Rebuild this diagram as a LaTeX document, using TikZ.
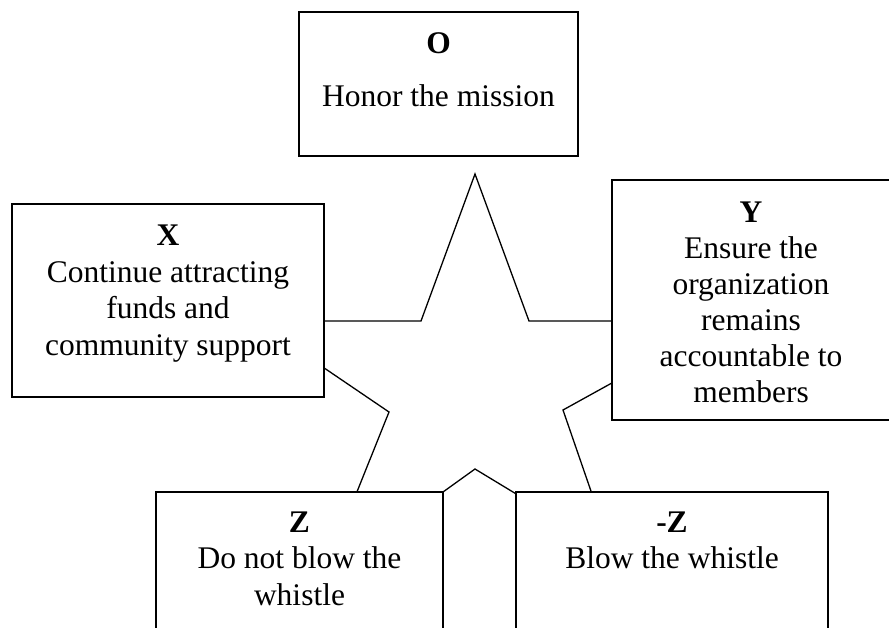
\documentclass[tikz,border=0pt]{standalone}
\usepackage{fontspec}
\setmainfont{Liberation Serif}
\begin{document}
\begin{tikzpicture}[x=1pt,y=-1pt,
  box/.style={draw=black,fill=white,line width=2pt,inner sep=0pt,rectangle},
  txt/.style={anchor=base,inner sep=0pt,font=\fontsize{31.5}{36}\selectfont},
  ttl/.style={txt,font=\fontsize{31.5}{36}\selectfont\bfseries},
  starline/.style={draw=black,line width=1.3pt,line join=miter}]
\useasboundingbox (0,0) rectangle (889,627);
\clip (0,0) rectangle (889,627);
% star
\coordinate (s1) at (475,174);
\coordinate (s2) at (529,321);
\coordinate (s3) at (724,321);
\coordinate (s4) at (563,410);
\coordinate (s5) at (612,552);
\coordinate (s6) at (475,469);
\coordinate (s7) at (322,579);
\coordinate (s8) at (389,412);
\coordinate (s9) at (255,321);
\coordinate (s10) at (421,321);
\draw[starline] (s1) -- (s2) -- (s3) -- (s4) -- (s5) -- (s6) -- (s7) -- (s8) -- (s9) -- (s10) -- cycle;
% boxes
\node[box,minimum width=279pt,minimum height=144pt] (boxO) at (438.5,84) {};
\node[box,minimum width=312pt,minimum height=193pt] (boxX) at (168,300.5) {};
\node[box,minimum width=280pt,minimum height=240pt] (boxY) at (752,300) {};
\node[box,minimum width=287pt,minimum height=148pt] (boxZ) at (299.5,566) {};
\node[box,minimum width=312pt,minimum height=148pt] (boxNZ) at (672,566) {};
% O
\node[ttl] (oT) at (438.5,53) {O};
\node[txt] (oL1) at (438.5,106) {Honor the mission};
% X
\node[ttl] (xT) at (168,245) {X};
\node[txt] (xL1) at (168,282) {Continue attracting};
\node[txt] (xL2) at (168,318) {funds and};
\node[txt] (xL3) at (168,355) {community support};
% Y
\node[ttl] (yT) at (751,222) {Y};
\node[txt] (yL1) at (751,258) {Ensure the};
\node[txt] (yL2) at (751,294) {organization};
\node[txt] (yL3) at (751,330) {remains};
\node[txt] (yL4) at (751,366) {accountable to};
\node[txt] (yL5) at (751,402) {members};
% Z
\node[ttl] (zT) at (299.5,532) {Z};
\node[txt] (zL1) at (299.5,568.5) {Do not blow the};
\node[txt] (zL2) at (299.5,605) {whistle};
% -Z
\node[ttl] (nzT) at (672,532) {-Z};
\node[txt] (nzL1) at (672,568) {Blow the whistle};
\end{tikzpicture}
\end{document}
